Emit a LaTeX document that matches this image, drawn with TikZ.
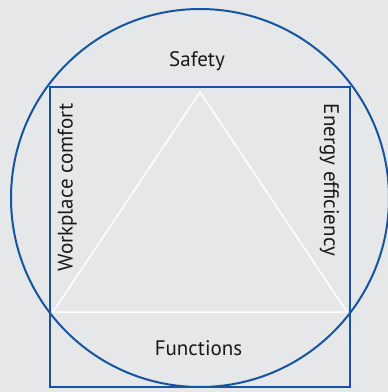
\documentclass[tikz,border=0pt]{standalone}
\usepackage{fontspec}
\setmainfont{PT Sans}
\usetikzlibrary{positioning}
\definecolor{ringblue}{RGB}{22,84,160}
\definecolor{panelgray}{RGB}{230,231,233}
\tikzset{every picture/.style={line width=2pt,x=1pt,y=-1pt},aspect/.style={font=\fontsize{21}{24}\selectfont,inner sep=0pt,text=black!90}}

\begin{document}
\begin{tikzpicture}
    \fill[panelgray] (0,0) rectangle (388,392);
    \useasboundingbox (0,0) rectangle (388,392);

    \node (ring) at (200,198) [circle, minimum size=378pt, inner sep=0pt, draw=ringblue] {};
    \node (frame) at (200,237) [minimum size=300pt, inner sep=0pt, draw=ringblue] {};

    \coordinate (top) at (200,92);
    \coordinate (left) at (53,312);
    \coordinate (right) at (347,312);
    \draw[white, line width=1.5pt] (top) -- (left) -- (right) -- cycle;

    \node (safety) at (197,66) [aspect, anchor=base] {Safety};
    \node (functions) at (198.5,355) [aspect, anchor=base] {Functions};
    \node (comfort) at (72.5,187.5) [aspect, anchor=base, rotate=90] {Workplace comfort};
    \node (energy) at (324,180) [aspect, anchor=base, rotate=-90] {Energy efficiency};
\end{tikzpicture}
\end{document}
